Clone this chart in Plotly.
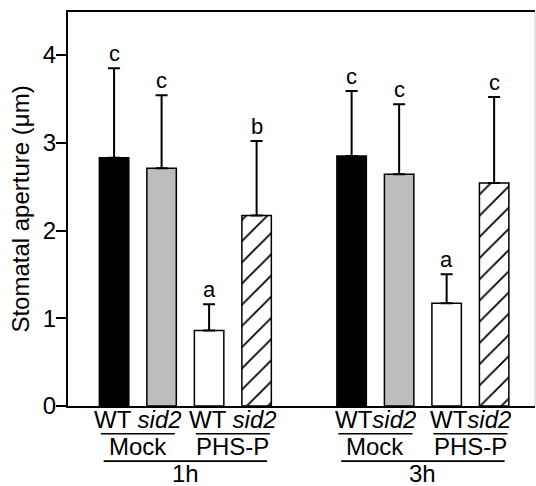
import plotly.graph_objects as go

# ---- data ----
times = ["1h", "3h"]
treatments = ["Mock", "PHS-P"]
genotypes = ["WT", "sid2"]
conditions = ["WT Mock", "sid2 Mock", "WT PHS-P", "sid2 PHS-P"]
# values per condition, [1h, 3h]
means = {
    "WT Mock": [2.83, 2.85],
    "sid2 Mock": [2.71, 2.64],
    "WT PHS-P": [0.86, 1.17],
    "sid2 PHS-P": [2.17, 2.54],
}
upper = {
    "WT Mock": [3.85, 3.59],
    "sid2 Mock": [3.54, 3.44],
    "WT PHS-P": [1.16, 1.50],
    "sid2 PHS-P": [3.02, 3.52],
}
letters = {
    "WT Mock": ["c", "c"],
    "sid2 Mock": ["c", "c"],
    "WT PHS-P": ["a", "a"],
    "sid2 PHS-P": ["b", "c"],
}

styles = {
    "WT Mock": dict(color="black", shape=""),
    "sid2 Mock": dict(color="#bdbdbd", shape=""),
    "WT PHS-P": dict(color="white", shape=""),
    "sid2 PHS-P": dict(color="white", shape="/"),
}

FONT = "Liberation Sans, Arial, sans-serif"
FS = 24

fig = go.Figure()
for k, cond in enumerate(conditions):
    xs = [ti * 5 + k for ti in range(len(times))]
    st = styles[cond]
    marker = dict(color=st["color"], line=dict(color="black", width=1.5))
    if st["shape"]:
        marker["pattern"] = dict(shape=st["shape"], fgcolor="black", bgcolor="white",
                                 fillmode="replace", size=15, solidity=0.12)
    errs = [u - m for u, m in zip(upper[cond], means[cond])]
    fig.add_trace(go.Bar(
        x=xs, y=means[cond], width=0.62, name=cond, marker=marker,
        error_y=dict(type="data", symmetric=False, array=errs,
                     arrayminus=[0] * len(errs), color="black", thickness=2, width=6),
        showlegend=False,
    ))
    for x, u, t in zip(xs, upper[cond], letters[cond]):
        fig.add_annotation(x=x, y=u, text=t, showarrow=False, yanchor="bottom",
                           yshift=0, font=dict(family=FONT, size=FS - 2, color="black"))

# layout helpers (pixel -> paper)
Y0, H = 405.7, 394.0
def py(p):
    return (Y0 - p) / H

LBL = dict(xref="x", yref="paper", yanchor="middle", xanchor="center",
           showarrow=False, height=22, valign="middle", borderpad=0,
           font=dict(family=FONT, size=FS, color="black"))

shapes = []
for ti, tlabel in enumerate(times):
    base = ti * 5
    for gi, trt in enumerate(treatments):
        c = base + gi * 2 + 0.5
        fig.add_annotation(x=c, y=py(419),
                           text=genotypes[0] + (" " if ti == 0 else "") + "<i>" + genotypes[1] + "</i>",
                           **LBL)
        shapes.append(dict(type="line", xref="x", yref="paper", x0=c - 0.78, x1=c + 0.78,
                           y0=py(433.5), y1=py(433.5), line=dict(color="black", width=1.6)))
        fig.add_annotation(x=c, y=py(446), text=trt, **LBL)
    c = base + 1.5
    shapes.append(dict(type="line", xref="x", yref="paper", x0=c - 1.72, x1=c + 1.72,
                       y0=py(460.8), y1=py(460.8), line=dict(color="black", width=1.6)))
    fig.add_annotation(x=c, y=py(473), text=tlabel, **LBL)

shapes.append(dict(type="line", xref="paper", yref="paper", x0=1, x1=1, y0=0, y1=1,
                   line=dict(color="#c8c8c8", width=1)))

fig.update_layout(
    width=536, height=486,
    margin=dict(l=68, r=1, t=12, b=80),
    paper_bgcolor="white", plot_bgcolor="white",
    font=dict(family=FONT, size=FS, color="black"),
    shapes=shapes,
    barmode="overlay",
    xaxis=dict(range=[-0.97, 8.86], showticklabels=False, ticks="", showgrid=False,
               zeroline=False, showline=True, linecolor="black", linewidth=2, mirror=True),
    yaxis=dict(range=[0, 4.49], tickvals=[0, 1, 2, 3, 4], ticks="outside", ticklen=10,
               tickwidth=2, tickcolor="black", showgrid=False, zeroline=False,
               showline=True, linecolor="black", linewidth=2, ticklabelstandoff=-5,
               title=dict(text="Stomatal aperture (μm)", standoff=6,
                          font=dict(family=FONT, size=FS)),
               tickfont=dict(family=FONT, size=FS)),
)

fig.write_html("out.html", config={"displayModeBar": False},
               post_script="document.body.style.margin='0';")
